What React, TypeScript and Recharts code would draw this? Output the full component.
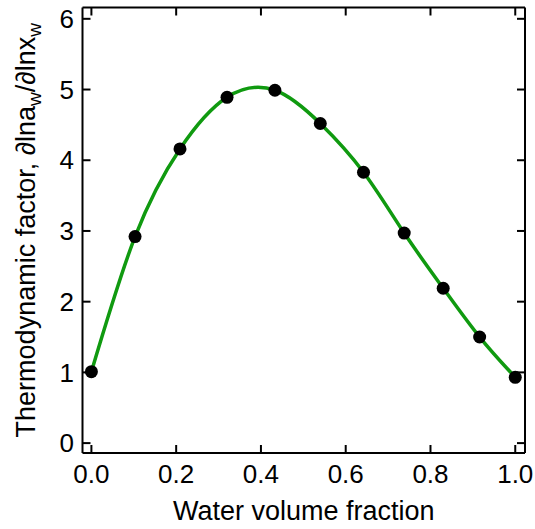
import React from "react";
import { LineChart, Line, XAxis, YAxis } from "recharts";

const waterFraction = [0.0, 0.103, 0.209, 0.32, 0.433, 0.54, 0.642, 0.738, 0.83, 0.916, 1.0];
const thermoFactor = [1.01, 2.92, 4.16, 4.89, 4.99, 4.52, 3.83, 2.97, 2.19, 1.5, 0.93];
const xTicks = [0, 0.2, 0.4, 0.6, 0.8, 1.0];
const xTickLabels = ["0.0", "0.2", "0.4", "0.6", "0.8", "1.0"];
const yTicks = [0, 1, 2, 3, 4, 5, 6];

const data = waterFraction.map((x, i) => ({ x, y: thermoFactor[i] }));

const FONT = "'Liberation Sans', Arial, Helvetica, sans-serif";
const X_DOMAIN: [number, number] = [-0.021, 1.023];
const Y_DOMAIN: [number, number] = [-0.14, 6.16];
const AXIS_LINE = { stroke: "#000", strokeWidth: 2 };
const TICK_LINE = { stroke: "#000", strokeWidth: 2 };
const Empty = () => <g />;

const formatX = (v: number) => {
  const i = xTicks.indexOf(v);
  return i >= 0 ? xTickLabels[i] : String(v);
};

const YTitle = (props: any) => {
  const vb = props.viewBox || { x: 0, y: 0, width: 0, height: 0 };
  const cx = vb.x + 35;
  const cy = vb.y + vb.height / 2;
  return (
    <text
      x={cx}
      y={cy}
      textAnchor="middle"
      fontSize={27}
      fontFamily={FONT}
      fill="#000"
      transform={`rotate(-90, ${cx}, ${cy})`}
    >
      <tspan>Thermodynamic factor, ∂lna</tspan>
      <tspan fontSize={19} dy={6}>w</tspan>
      <tspan dy={-6}>/∂lnx</tspan>
      <tspan fontSize={19} dy={6}>w</tspan>
    </text>
  );
};

const XTitle = (props: any) => {
  const vb = props.viewBox || { x: 0, y: 0, width: 0, height: 0 };
  const cx = vb.x + vb.width / 2;
  return (
    <text x={cx} y={vb.y + 67} textAnchor="middle" fontSize={27} fontFamily={FONT} fill="#000">
      Water volume fraction
    </text>
  );
};

const tickText = { fontSize: 26, fill: "#000", fontFamily: FONT };

export default function App() {
  return (
    <div style={{ position: "absolute", left: 0, top: 0, width: 535, height: 529, background: "#fff" }}>
      <LineChart width={535} height={529} data={data} margin={{ top: 7.5, right: 10, left: 0, bottom: 0 }}>
        <XAxis
          xAxisId="bottom"
          dataKey="x"
          type="number"
          domain={X_DOMAIN}
          ticks={xTicks}
          allowDataOverflow
          height={76}
          tickSize={1}
          tickMargin={10.8}
          tickLine={false}
          axisLine={AXIS_LINE}
          tick={tickText}
          tickFormatter={formatX}
          interval={0}
          label={<XTitle />}
        />
        <XAxis
          xAxisId="bottomTicks"
          dataKey="x"
          type="number"
          domain={X_DOMAIN}
          ticks={xTicks}
          allowDataOverflow
          height={30}
          mirror
          tickSize={8}
          tickLine={TICK_LINE}
          axisLine={false}
          tick={<Empty />}
          interval={0}
        />
        <XAxis
          xAxisId="top"
          orientation="top"
          dataKey="x"
          type="number"
          domain={X_DOMAIN}
          ticks={xTicks}
          allowDataOverflow
          height={30}
          mirror
          tickSize={8}
          tickLine={TICK_LINE}
          axisLine={AXIS_LINE}
          tick={<Empty />}
          interval={0}
        />
        <YAxis
          yAxisId="left"
          type="number"
          domain={Y_DOMAIN}
          ticks={yTicks}
          allowDataOverflow
          width={82.5}
          tickSize={1}
          tickMargin={7.5}
          tickLine={false}
          axisLine={AXIS_LINE}
          tick={tickText}
          interval={0}
          label={<YTitle />}
        />
        <YAxis
          yAxisId="leftTicks"
          type="number"
          domain={Y_DOMAIN}
          ticks={yTicks}
          allowDataOverflow
          width={30}
          mirror
          tickSize={8}
          tickLine={TICK_LINE}
          axisLine={false}
          tick={<Empty />}
          interval={0}
        />
        <YAxis
          yAxisId="right"
          orientation="right"
          type="number"
          domain={Y_DOMAIN}
          ticks={yTicks}
          allowDataOverflow
          width={30}
          mirror
          tickSize={8}
          tickLine={TICK_LINE}
          axisLine={AXIS_LINE}
          tick={<Empty />}
          interval={0}
        />
        <Line
          xAxisId="bottom"
          yAxisId="left"
          type="natural"
          dataKey="y"
          stroke="#109a10"
          strokeWidth={3.5}
          dot={{ r: 6.5, fill: "#000", stroke: "none" }}
          activeDot={false}
          isAnimationActive={false}
        />
      </LineChart>
    </div>
  );
}
